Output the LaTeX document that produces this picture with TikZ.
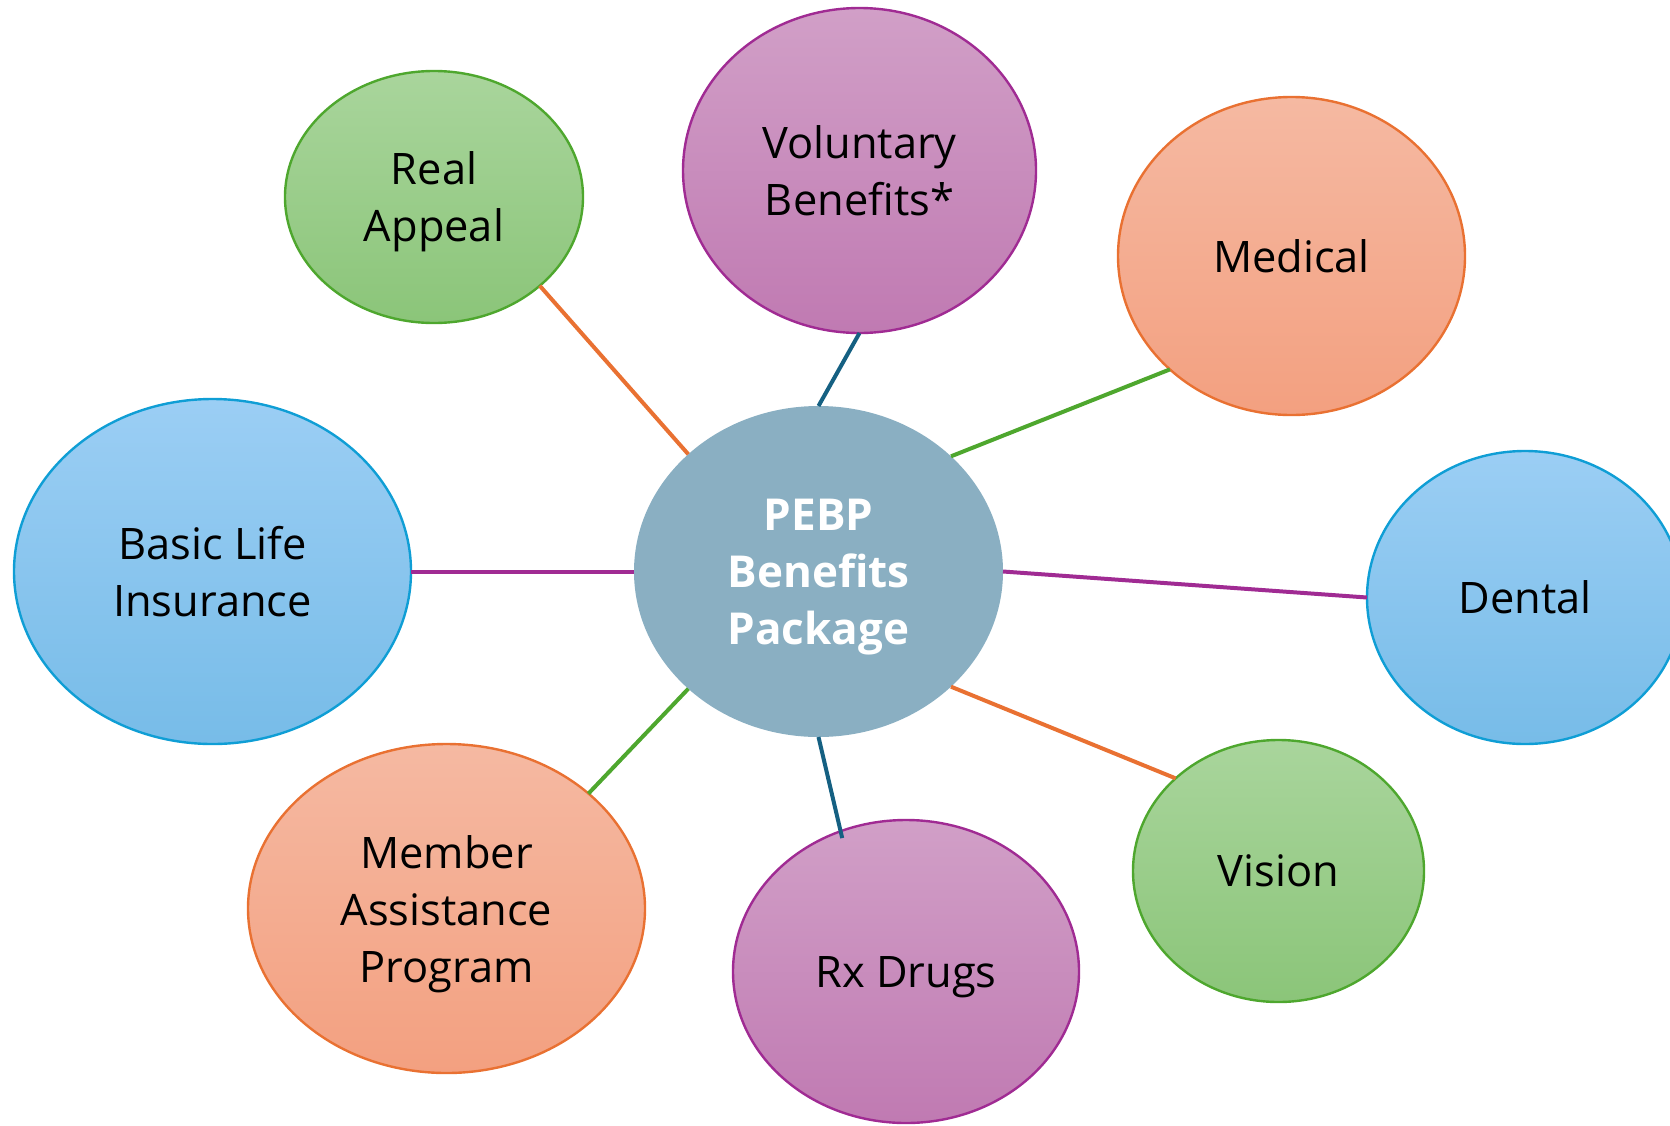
\documentclass[tikz,border=0pt]{standalone}
\usepackage{fontspec}
\setmainfont{Open Sans}
\usetikzlibrary{shapes.geometric}

% Office palette
\definecolor{hubfill}{HTML}{8AAFC2}
\definecolor{linegreen}{HTML}{4EA72E}
\definecolor{linepurple}{HTML}{A02B93}
\definecolor{lineorange}{HTML}{E97132}
\definecolor{lineblue}{HTML}{156082}
\definecolor{ringblue}{HTML}{0F9ED5}
\definecolor{greentop}{HTML}{A9D59C}
\definecolor{greenbot}{HTML}{8BC579}
\definecolor{purpletop}{HTML}{D19FC7}
\definecolor{purplebot}{HTML}{C07AB2}
\definecolor{orangetop}{HTML}{F5B9A2}
\definecolor{orangebot}{HTML}{F3A080}
\definecolor{bluetop}{HTML}{9BCEF4}
\definecolor{bluebot}{HTML}{77BCE8}

\begin{document}
\begin{tikzpicture}[
        x=0.5pt, y=-0.5pt,
        hub/.style={ellipse, fill=hubfill, text=white, inner sep=0pt, outer sep=0pt, text depth=0pt, align=center, font=\fontsize{22}{28.5}\selectfont\bfseries},
        benefit/.style={ellipse, line width=1.2pt, inner sep=0pt, outer sep=0pt, text depth=0pt, align=center, font=\fontsize{21.7}{28.5}\selectfont},
        greenleaf/.style={benefit, draw=linegreen, top color=greentop, bottom color=greenbot},
        purpleleaf/.style={benefit, draw=linepurple, top color=purpletop, bottom color=purplebot},
        orangeleaf/.style={benefit, draw=lineorange, top color=orangetop, bottom color=orangebot},
        blueleaf/.style={benefit, draw=ringblue, top color=bluetop, bottom color=bluebot},
        edge/.style={line width=2pt}
    ]
        \useasboundingbox (0,0) rectangle (1670,1125);
        \clip (0,0) rectangle (1670,1125);

        % Hub
        \node[hub, minimum width=184.5pt, minimum height=165.5pt] (pebp) at (818.5,571.5) {PEBP\\Benefits\\Package};

        % Benefits around the hub
        \node[greenleaf, minimum width=149pt, minimum height=126pt] (appeal) at (434,197) {Real\\Appeal};
        \node[purpleleaf, minimum width=176.5pt, minimum height=162.5pt] (voluntary) at (859.5,170.5) {Voluntary\\Benefits*};
        \node[orangeleaf, minimum width=173.5pt, minimum height=159pt] (medical) at (1291.5,256) {Medical};
        \node[blueleaf, minimum width=198.5pt, minimum height=172.5pt] (life) at (212.5,571.5) {Basic Life\\Insurance};
        \node[blueleaf, minimum width=158pt, minimum height=146.5pt] (dental) at (1525,597.5) {Dental};
        \node[greenleaf, minimum width=145.5pt, minimum height=131pt] (vision) at (1278.5,871) {Vision};
        \node[purpleleaf, minimum width=173pt, minimum height=151.5pt] (rx) at (906,971.5) {Rx Drugs};
        \node[orangeleaf, minimum width=198.5pt, minimum height=164.5pt] (member) at (446.5,908.5) {Member\\Assistance\\Program};

        % Spokes
        \draw[edge, lineorange] (pebp.138.1) -- (appeal.-40.2);
        \draw[edge, lineblue] (pebp.north) -- (voluntary.south);
        \draw[edge, linegreen] (pebp.41.9) -- (medical.-137.5);
        \draw[edge, linepurple] (pebp.west) -- (life.east);
        \draw[edge, linepurple] (pebp.east) -- (dental.west);
        \draw[edge, lineorange] (pebp.-41.9) -- (vision.138);
        \draw[edge, lineblue, shorten >=-3.5pt] (pebp.south) -- (rx.115.8);
        \draw[edge, linegreen] (pebp.-138.1) -- (member.39.7);

    \end{tikzpicture}
\end{document}
